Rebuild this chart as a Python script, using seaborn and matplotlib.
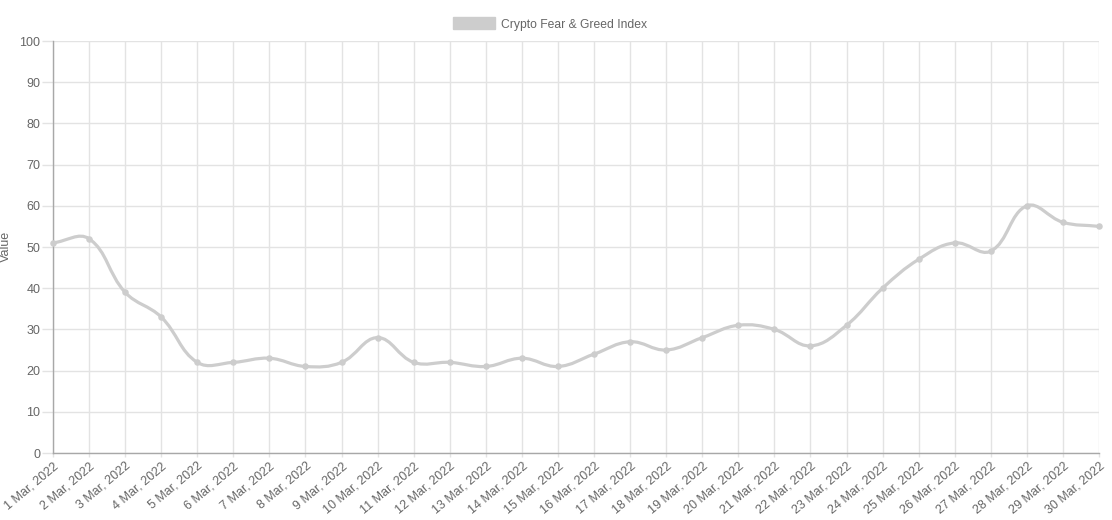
import numpy as np
import pandas as pd
import seaborn as sns
import matplotlib.pyplot as plt
from matplotlib.path import Path
from matplotlib.patches import PathPatch, Patch

dias = [f"{d} Mar, 2022" for d in range(1, 31)]
valores = [51, 52, 39, 33, 22, 22, 23, 21, 22, 28, 22, 22, 21, 23, 21,
           24, 27, 25, 28, 31, 30, 26, 31, 40, 47, 51, 49, 60, 56, 55]
serie = "Crypto Fear & Greed Index"

df = pd.DataFrame({"pos": np.arange(len(dias)), "dia": dias, "valor": valores})

sns.set_theme(style="white")
plt.rcParams["font.family"] = ["Liberation Sans", "DejaVu Sans"]

cinza = "#cdcdcd"
texto = "#666666"

fig = plt.figure(figsize=(11.12, 5.2), dpi=100)
ax = fig.add_axes([53 / 1112, 1 - 453 / 520, 1046 / 1112, 412 / 520])

# curva suave no estilo do Chart.js (tensao 0.4), calculada em pixels
sx = 1046 / 29
sy = 412 / 100
px = df["pos"].to_numpy() * sx
py = df["valor"].to_numpy() * sy
n = len(px)
cp_in, cp_out = [], []
for i in range(n):
    a = max(i - 1, 0)
    b = min(i + 1, n - 1)
    d01 = np.hypot(px[i] - px[a], py[i] - py[a])
    d12 = np.hypot(px[b] - px[i], py[b] - py[i])
    tot = d01 + d12 if d01 + d12 else 1
    fa = 0.4 * d01 / tot
    fb = 0.4 * d12 / tot
    dx = px[b] - px[a]
    dy = py[b] - py[a]
    cp_in.append((px[i] - fa * dx, py[i] - fa * dy))
    cp_out.append((px[i] + fb * dx, py[i] + fb * dy))

verts = [(px[0] / sx, py[0] / sy)]
codes = [Path.MOVETO]
for i in range(n - 1):
    verts += [(cp_out[i][0] / sx, cp_out[i][1] / sy),
              (cp_in[i + 1][0] / sx, cp_in[i + 1][1] / sy),
              (px[i + 1] / sx, py[i + 1] / sy)]
    codes += [Path.CURVE4] * 3
ax.add_patch(PathPatch(Path(verts, codes), facecolor="none",
                       edgecolor=cinza, lw=2.3, zorder=3, clip_on=False))

sns.scatterplot(data=df, x="pos", y="valor", ax=ax, color=cinza, s=22,
                edgecolor=cinza, linewidth=0, zorder=4, clip_on=False, legend=False)

ax.set_xlim(0, n - 1)
ax.set_ylim(0, 100)
ax.set_yticks(range(0, 101, 10))
ax.set_xticks(df["pos"])
ax.set_xticklabels(dias, rotation=40, ha="right", rotation_mode="anchor")
ax.grid(True, color="#e3e3e3", lw=1)
ax.tick_params(axis="both", colors="#e3e3e3", labelcolor=texto, labelsize=9,
               width=1, direction="out", left=True, bottom=True)
ax.tick_params(axis="y", length=8, pad=1)
ax.tick_params(axis="x", length=3, pad=2)
for lado in ["top", "right"]:
    ax.spines[lado].set_visible(False)
for lado in ["left", "bottom"]:
    ax.spines[lado].set_color("#a8a8a8")
    ax.spines[lado].set_linewidth(1)
ax.set_xlabel("")
ax.set_ylabel("")
fig.text(6 / 1112, 1 - 246 / 520, "Value", rotation=90, color=texto,
         fontsize=9, ha="center", va="center")

fig.legend(handles=[Patch(facecolor=cinza, edgecolor=cinza)], labels=[serie],
           loc="center", bbox_to_anchor=(550 / 1112, 1 - 24 / 520), frameon=False,
           fontsize=8.7, labelcolor=texto, handlelength=3.5, handleheight=1.15,
           handletextpad=0.5, borderpad=0)

fig.savefig("out.png", dpi=100)
